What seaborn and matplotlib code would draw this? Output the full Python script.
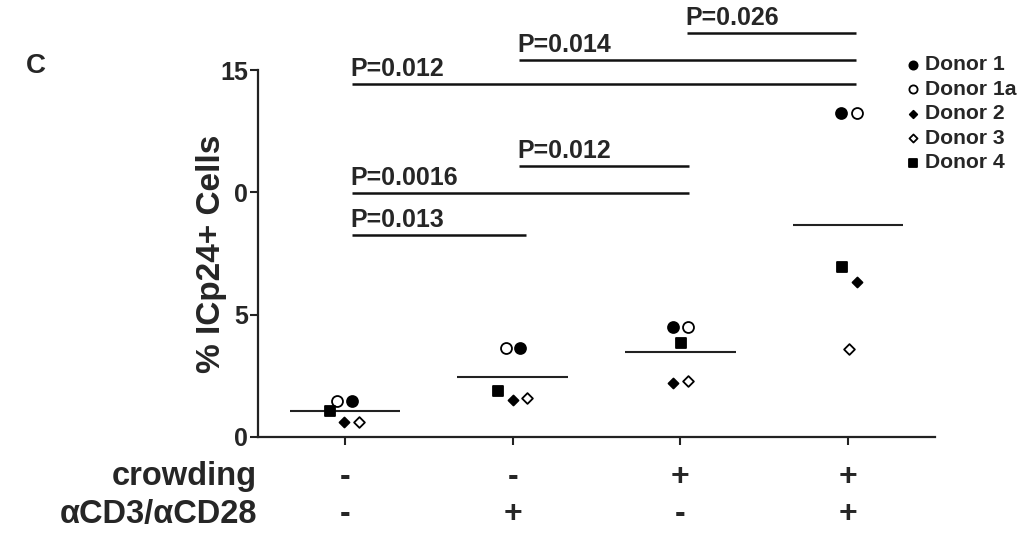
import numpy as np
import pandas as pd
import matplotlib
matplotlib.use("Agg")
import matplotlib.pyplot as plt
import matplotlib.transforms as mtransforms
import seaborn as sns

# ---- data -------------------------------------------------------------
groups = [0, 1, 2, 3]
crowding = ["-", "-", "+", "+"]
anti_cd3_cd28 = ["-", "+", "-", "+"]

donors = ["Donor 1", "Donor 1a", "Donor 2", "Donor 3", "Donor 4"]
donor1 = [1.47, 3.64, 4.50, 13.24]
donor1a = [1.47, 3.64, 4.50, 13.24]
donor2 = [0.61, 1.51, 2.20, 6.33]
donor3 = [0.61, 1.59, 2.29, 3.60]
donor4 = [1.06, 1.88, 3.84, 6.95]
values = [donor1, donor1a, donor2, donor3, donor4]

ytick_values = [0, 5, 10, 15]
ytick_labels = ["0", "5", "0", "15"]

comparisons = [(0, 1, "P=0.013"), (0, 2, "P=0.0016"), (1, 2, "P=0.012"),
               (0, 3, "P=0.012"), (1, 3, "P=0.014"), (2, 3, "P=0.026")]

# ---- styling / placement ------------------------------------------------
bar_levels = [8.25, 9.97, 11.07, 14.43, 15.41, 16.51]
# horizontal scatter offsets of each donor inside a group (axis units)
x_offsets = np.array([[7, 7, -7, -7],
                      [-8, -7, 8, 9],
                      [-1, 0, -7, 9],
                      [14, 14, 8, 1],
                      [-15, -15, 1, -6]]) / 167.7
marker_styles = {
    "Donor 1": dict(marker="o", color="black", s=62),
    "Donor 1a": dict(marker="o", color="white", s=62),
    "Donor 2": dict(marker="D", color="black", s=26),
    "Donor 3": dict(marker="D", color="white", s=30),
    "Donor 4": dict(marker="s", color="black", s=52),
}

sns.set_theme(style="ticks")
plt.rcParams["font.family"] = ["Liberation Sans", "DejaVu Sans"]
plt.rcParams["font.weight"] = "bold"

fig = plt.figure(figsize=(10.24, 5.34), dpi=100)
ax = fig.add_axes([258 / 1024, 1 - 437 / 534, (935 - 258) / 1024, (437 - 70) / 534])

rows = []
for d, name in enumerate(donors):
    for g in groups:
        rows.append(dict(donor=name, group=g, x=g + x_offsets[d, g], value=values[d][g]))
df = pd.DataFrame(rows)

for name in donors:
    sub = df[df.donor == name]
    st = marker_styles[name]
    sns.scatterplot(data=sub, x="x", y="value", marker=st["marker"], s=st["s"],
                    color=st["color"], edgecolor="black", linewidth=1.3,
                    ax=ax, label=name, clip_on=False, zorder=3)

# group means
means = df.groupby("group")["value"].mean()
ax.hlines(means.values, np.array(groups) - 0.33, np.array(groups) + 0.33,
          color="#222222", lw=1.5, zorder=2)

# significance bars
for (i, j, lab), lvl in zip(comparisons, bar_levels):
    end = j + (0.08 if (i, j) == (0, 1) else 0.05)
    ax.plot([i + 0.04, end], [lvl, lvl], color="#111111", lw=1.8,
            clip_on=False, solid_capstyle="butt")
    ax.text(i + 0.03, lvl + 0.13, lab, fontsize=18, fontweight="bold",
            ha="left", va="bottom", clip_on=False)

ax.set_xlim(-0.52, 3.52)
ax.set_ylim(0, 15)
ax.set_yticks(ytick_values)
ax.set_yticklabels(ytick_labels, fontsize=18, fontweight="bold")
ax.set_xticks(groups)
ax.set_xticklabels([])
ax.tick_params(axis="both", direction="out", length=6, width=1.5, color="#222222", pad=1)
ax.set_xlabel("")
ax.set_ylabel("% ICp24+ Cells", fontsize=24, fontweight="bold", labelpad=-5)
for side in ["top", "right"]:
    ax.spines[side].set_visible(False)
for side in ["left", "bottom"]:
    ax.spines[side].set_linewidth(1.6)
    ax.spines[side].set_color("#222222")

# treatment table under the axis
trans = mtransforms.blended_transform_factory(ax.transData, fig.transFigure)
row_y = [1 - 477 / 534, 1 - 514 / 534]
fig.text(257 / 1024, row_y[0], "crowding", fontsize=23.5, fontweight="bold",
         ha="right", va="center")
fig.text(257 / 1024, row_y[1], "αCD3/αCD28", fontsize=23.5, fontweight="bold",
         ha="right", va="center")
for g in groups:
    ax.text(g, row_y[0], crowding[g], transform=trans, fontsize=23,
            fontweight="bold", ha="center", va="center")
    ax.text(g, row_y[1], anti_cd3_cd28[g], transform=trans, fontsize=23,
            fontweight="bold", ha="center", va="center")

leg = ax.legend(loc="upper left", bbox_to_anchor=(894 / 1024, 1 - 47 / 534),
                bbox_transform=fig.transFigure, frameon=False, fontsize=15.2,
                handletextpad=0.05, labelspacing=0.26, handlelength=1.0,
                markerscale=0.75, borderaxespad=0)
for t in leg.get_texts():
    t.set_fontweight("bold")

fig.text(36 / 1024, 1 - 66 / 534, "C", fontsize=20, fontweight="bold",
         ha="center", va="center")

fig.savefig("out.png", dpi=100)
